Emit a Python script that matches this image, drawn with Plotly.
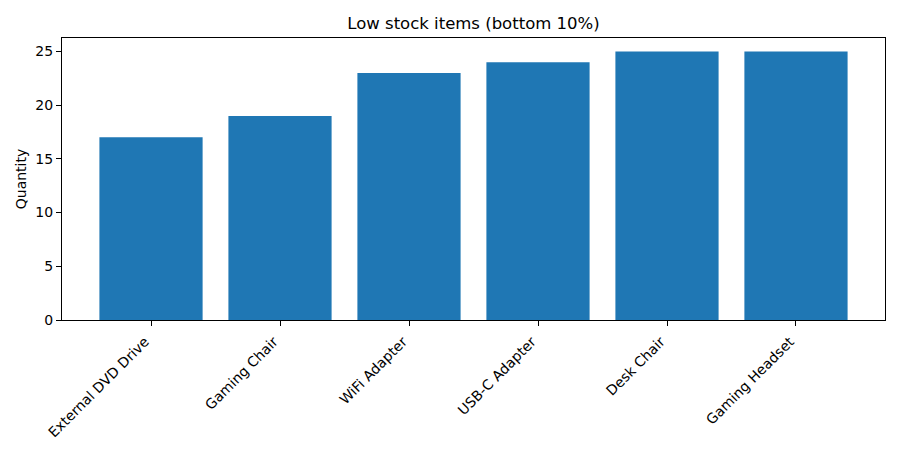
import plotly.graph_objects as go

items = ["External DVD Drive", "Gaming Chair", "WiFi Adapter", "USB-C Adapter", "Desk Chair", "Gaming Headset"]
quantities = [17, 19, 23, 24, 25, 25]
y_ticks = [0, 5, 10, 15, 20, 25]

fig = go.Figure(go.Bar(x=list(range(len(items))), y=quantities, width=0.8,
                       marker=dict(color="#1f77b4", line=dict(width=0))))

fig.update_layout(
    width=900, height=450,
    margin=dict(l=54, r=23, t=30, b=138, autoexpand=False),
    plot_bgcolor="white", paper_bgcolor="white",
    font=dict(family="DejaVu Sans", size=14, color="black"),
    title=dict(text="Low stock items (bottom 10%)", x=(62 + 885) / 2 / 900 - 8 / 900, xanchor="center",
               y=1 - 15/450, yanchor="middle", font=dict(size=16.5)),
    showlegend=False,
)
fig.update_xaxes(range=[-0.69, 5.69], tickmode="array", tickvals=list(range(len(items))),
                 ticktext=items, tickangle=-45, showgrid=False, zeroline=False,
                 showline=True, linecolor="black", linewidth=1, mirror=True,
                 ticks="outside", ticklen=5, tickcolor="black", tickfont=dict(size=14),
                 ticklabelshift=-6, ticklabelstandoff=2)
fig.update_yaxes(range=[0, 26.25], tickvals=y_ticks, showgrid=False, zeroline=False,
                 showline=True, linecolor="black", linewidth=1, mirror=True,
                 ticks="outside", ticklen=5, tickcolor="black", tickfont=dict(size=14),
                 title=dict(text="Quantity", standoff=5, font=dict(size=14)))

fig.write_html("out.html")
